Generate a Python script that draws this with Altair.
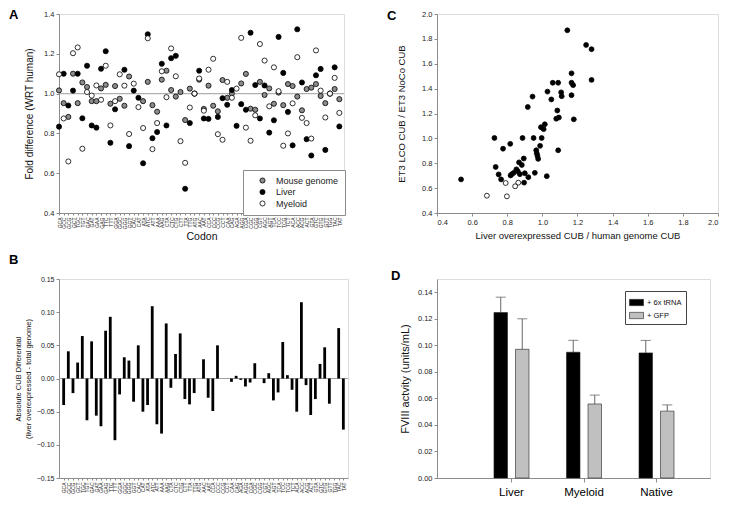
import altair as alt
import pandas as pd

FONT = "Liberation Sans"
GRAY = "#8c8c8c"

# ---------------- data ----------------
codons = ["GCA", "GCC", "GCG", "GCT", "TGC", "TGT", "GAC", "GAT", "GAA", "GAG", "TTC", "TTT",
          "GGA", "GGC", "GGG", "GGT", "CAC", "CAT", "ATA", "ATC", "ATT", "AAA", "AAG",
          "CTA", "CTC", "CTG", "CTT", "TTA", "TTG", "ATG", "AAC", "AAT", "CCA", "CCC", "CCG", "CCT",
          "CAA", "CAG", "AGA", "AGG", "CGA", "CGC", "CGG", "CGT", "AGC", "AGT", "TCA", "TCC", "TCG", "TCT",
          "ACA", "ACC", "ACG", "ACT", "GTA", "GTC", "GTG", "GTT", "TGG", "TAC", "TAT"]

series_names = ["Mouse genome", "Liver", "Myeloid"]

mouse = [1.016, 0.952, 0.883, 1.100, 0.952, 1.056, 1.033, 0.962, 0.962, 1.026, 1.044, 0.949,
         1.038, 0.974, 0.939, 1.086, None, None, 0.962, 1.059, 0.942, 0.909, 1.070,
         1.115, 1.018, 0.985, 1.008, 0.867, 1.025, 1.000, 1.070, 0.923, 1.040, 0.939, 0.911, 1.068,
         0.979, 1.000, None, 1.051, 1.099, 0.924, 0.919, 1.059, 0.993, 1.026, 0.949, 1.005, 0.942, 1.048,
         1.038, 0.985, 0.916, 1.023, 1.030, 1.048, 0.988, 0.952, 1.000, 1.023, 0.972]
liver = [0.834, 1.100, 0.940, 1.015, 1.100, 0.876, 1.140, 0.840, 0.829, 1.125, 1.213, 0.753,
         0.921, None, 1.120, 0.736, 1.015, 0.979, 0.650, 1.298, 0.776, 0.807, 1.150,
         0.840, 1.178, 1.190, None, 0.522, 0.852, 1.000, 1.115, 0.875, 0.873, None, 0.883, 0.977,
         0.944, 1.018, 0.838, 0.947, 0.919, 1.306, 1.043, 0.875, 1.041, 0.804, 0.866, 1.285, 1.104, 0.908,
         0.740, 1.323, 1.056, 0.771, 0.689, 1.092, 1.124, 0.717, 1.000, 1.132, 0.835]
myeloid = [1.097, 0.875, 0.659, 1.203, 1.232, 0.723, 1.008, 0.990, 1.041, 0.969, 1.140, 0.840,
           0.962, 1.097, 1.040, 0.797, 1.050, 0.932, 0.827, 1.278, 0.721, 0.852, 1.112,
           0.982, 1.227, 1.087, 0.761, 0.652, 0.930, 1.000, 1.076, 0.914, 1.120, 1.175, 0.796, 0.768,
           1.059, 0.979, 1.025, 1.280, 0.829, 0.763, 0.891, 1.249, 1.166, 0.936, 1.132, 1.012, 0.738, 0.800,
           0.951, 1.183, 0.878, 0.852, 0.774, 1.217, 1.015, 0.880, 1.000, 1.079, 0.903]

cub_diff = [-0.040, 0.041, -0.022, 0.024, 0.064, -0.063, 0.056, -0.056, -0.072, 0.072, 0.093, -0.093,
            -0.024, 0.032, 0.027, -0.035, 0.050, -0.050, -0.040, 0.109, -0.069, -0.083, 0.083,
            -0.014, 0.037, 0.068, -0.031, -0.039, -0.022, 0.000, 0.029, -0.029, -0.049, 0.050, 0.000, 0.000,
            -0.005, 0.004, -0.002, -0.012, -0.006, 0.023, 0.000, -0.007, 0.008, -0.033, -0.021, 0.055, 0.005, -0.017,
            -0.050, 0.115, -0.010, -0.055, -0.031, 0.022, 0.047, -0.038, 0.000, 0.076, -0.077]

c_filled_x = [0.537, 0.727, 0.734, 0.751, 0.765, 0.776, 0.817, 0.819, 0.826, 0.837, 0.852, 0.860,
              0.867, 0.872, 0.883, 0.887, 0.894, 0.896, 0.900, 0.917, 0.920, 0.944, 0.950, 0.957,
              0.965, 0.968, 0.972, 0.976, 0.987, 0.992, 0.996, 1.007, 1.014, 1.025, 1.029, 1.051,
              1.059, 1.079, 1.085, 1.090, 1.090, 1.094, 1.107, 1.110, 1.142, 1.166, 1.166, 1.166,
              1.175, 1.179, 1.249, 1.280, 1.280]
c_filled_y = [0.670, 1.003, 0.770, 0.710, 0.670, 0.917, 0.956, 0.702, 0.712, 0.723, 0.751, 0.736,
              0.807, 0.712, 0.786, 1.003, 0.838, 0.644, 0.720, 1.252, 0.688, 1.336, 1.003, 0.723,
              0.904, 0.880, 0.859, 0.835, 0.940, 1.090, 1.003, 1.074, 1.113, 0.696, 1.376, 1.313,
              1.447, 1.158, 1.224, 1.447, 0.904, 1.168, 1.370, 1.339, 1.869, 1.347, 1.523, 1.447,
              1.428, 1.153, 1.751, 1.717, 1.470]
c_open_x = [0.684, 0.791, 0.798, 0.845, 0.863]
c_open_y = [0.539, 0.641, 0.534, 0.615, 0.644]

cells = ["Liver", "Myeloid", "Native"]
treats = ["+ 6x tRNA", "+ GFP"]
trna_mean = [0.1247, 0.0948, 0.0943]
trna_upper = [0.1363, 0.1038, 0.1037]
gfp_mean = [0.0970, 0.0558, 0.0504]
gfp_upper = [0.1200, 0.0625, 0.0551]

# ---------------- tables ----------------
rowsA = []
for name, vals in zip(series_names, [mouse, liver, myeloid]):
    for c, v in zip(codons, vals):
        if v is not None:
            rowsA.append({"codon": c, "series": name, "value": v})
dfA = pd.DataFrame(rowsA)
dfB = pd.DataFrame({"codon": codons, "diff": cub_diff})
dfC = pd.DataFrame({
    "cx": c_filled_x + c_open_x,
    "cy": c_filled_y + c_open_y,
    "kind": ["filled"] * len(c_filled_x) + ["open"] * len(c_open_x),
})
dfD = pd.DataFrame({
    "cell": cells + cells,
    "treat": [treats[0]] * 3 + [treats[1]] * 3,
    "mean": trna_mean + gfp_mean,
    "upper": trna_upper + gfp_upper,
})

ax = dict(labelFont=FONT, titleFont=FONT, labelColor="#222", titleColor="#111",
          domainColor=GRAY, tickColor=GRAY, grid=False, titleFontWeight="normal",
          labelFontSize=7.5, tickSize=3)


def letter(ch, dx, dy):
    return alt.Chart(pd.DataFrame({"t": [ch]})).mark_text(
        align="left", baseline="top", font=FONT, fontSize=13, fontWeight="bold", color="black"
    ).encode(text="t:N", x=alt.value(dx), y=alt.value(dy))


# ---------------- panel A ----------------
WA, HA = 285, 199
xA = alt.X("codon:N", sort=codons, scale=alt.Scale(type="point", padding=0.5, align=0),
           axis=alt.Axis(title="Codon", labelAngle=270, titleFontSize=10.5, titlePadding=3,
                         **{**ax, "labelFontSize": 5, "tickSize": 2}))
yA = alt.Y("value:Q", scale=alt.Scale(domain=[0.4, 1.4]),
           axis=alt.Axis(values=[0.4, 0.6, 0.8, 1.0, 1.2, 1.4], format=".1f",
                         title="Fold difference (WRT human)", titleFontSize=10, titlePadding=9, **ax))
ruleA = alt.Chart(pd.DataFrame({"value": [1.0]})).mark_rule(color="#b0b0b0", strokeWidth=1.2).encode(y=yA)
ptsA = alt.Chart(dfA).mark_point(shape="circle", filled=True, size=26, stroke="black",
                                 strokeWidth=0.8, opacity=1).encode(
    x=xA, y=yA,
    fill=alt.Fill("series:N", sort=series_names,
                  scale=alt.Scale(domain=series_names, range=["#8c8c8c", "black", "white"]),
                  legend=alt.Legend(title=None, orient="none", legendX=184, legendY=156,
                                    strokeColor=GRAY, fillColor="white", padding=6,
                                    symbolOffset=9, labelOffset=9, labelFont=FONT, labelFontSize=9,
                                    labelColor="#222", symbolType="circle", symbolSize=26,
                                    symbolStrokeColor="black", symbolStrokeWidth=0.8, rowPadding=1.5)),
)
panelA = alt.layer(ruleA, ptsA, letter("A", -50, -5)).properties(width=WA, height=HA)

# ---------------- panel B ----------------
WB, HB = 289, 199
xB = alt.X("codon:N", sort=codons, scale=alt.Scale(type="point", padding=1),
           axis=alt.Axis(title=None, labelAngle=270, **{**ax, "labelFontSize": 5, "tickSize": 2}))
yB = alt.Y("diff:Q", scale=alt.Scale(domain=[-0.15, 0.15]),
           axis=alt.Axis(values=[-0.15, -0.10, -0.05, 0.0, 0.05, 0.10, 0.15], format=".2f",
                         title=["Absolute CUB Differential", "(liver overexpressed - total genome)"],
                         titleFontSize=7.5, titlePadding=4, **{**ax, "labelFontSize": 7}))
zeroB = alt.Chart(pd.DataFrame({"diff": [0.0]})).mark_rule(color="#a0a0a0", strokeWidth=1.2).encode(y=yB)
barsB = alt.Chart(dfB).mark_bar(size=2.8, color="black").encode(x=xB, y=yB)
panelB = alt.layer(zeroB, barsB, letter("B", -50, -25)).properties(width=WB, height=HB)

# ---------------- panel C ----------------
WC, HC = 281, 199
ticks = [0.4, 0.6, 0.8, 1.0, 1.2, 1.4, 1.6, 1.8, 2.0]
xC = alt.X("cx:Q", scale=alt.Scale(domain=[0.4, 2.0]),
           axis=alt.Axis(values=ticks, format=".1f", title="Liver overexpressed CUB / human genome CUB",
                         titleFontSize=9.5, titlePadding=5, **ax))
yC = alt.Y("cy:Q", scale=alt.Scale(domain=[0.4, 2.0]),
           axis=alt.Axis(values=ticks, format=".1f", title="ET3 LCO CUB / ET3 NoCo CUB",
                         titleFontSize=9.5, titlePadding=15, **ax))
ptsC = alt.Chart(dfC).mark_point(shape="circle", filled=True, size=24, stroke="black",
                                 strokeWidth=0.8, opacity=1).encode(
    x=xC, y=yC,
    fill=alt.Fill("kind:N", scale=alt.Scale(domain=["filled", "open"], range=["black", "white"]), legend=None),
)
panelC = alt.layer(ptsC, letter("C", -50, -4)).properties(width=WC, height=HC)

# ---------------- panel D ----------------
WD, HD = 273, 199
axD = alt.Axis(values=[0, 0.02, 0.04, 0.06, 0.08, 0.10, 0.12, 0.14], format=".2f",
               title="FVIII actvity (units/mL)", titleFontSize=11, titlePadding=7, **ax)
scD = alt.Scale(domain=[0, 0.15])
xD = alt.X("cell:N", sort=cells, scale=alt.Scale(paddingInner=0.517, paddingOuter=0.641, align=0.613),
           axis=alt.Axis(title=None, labelAngle=0, labelPadding=4,
                         **{**ax, "labelFontSize": 11.5, "labelColor": "black", "tickSize": 4}))
xoD = alt.XOffset("treat:N", sort=treats, scale=alt.Scale(paddingInner=0.372))
yD = alt.Y("mean:Q", scale=scD, axis=axD)
barsD = alt.Chart(dfD).mark_bar(stroke="#222", strokeWidth=0.6).encode(
    x=xD, xOffset=xoD, y=yD,
    fill=alt.Fill("treat:N", sort=treats, scale=alt.Scale(domain=treats, range=["black", "#c0c0c0"]),
                  legend=alt.Legend(title=None, orient="none", legendX=188, legendY=12,
                                    strokeColor="#444", fillColor="white", padding=4,
                                    labelFont=FONT, labelFontSize=7.5, labelColor="#111",
                                    symbolType="M-1,-0.45L1,-0.45L1,0.45L-1,0.45Z", symbolSize=196,
                                    symbolStrokeColor="#222", symbolStrokeWidth=0.6,
                                    labelOffset=3, rowPadding=1)),
)
errD = alt.Chart(dfD).mark_rule(color="#555", strokeWidth=0.9).encode(
    x=xD, xOffset=xoD, y=yD, y2="upper:Q")
capD = alt.Chart(dfD).mark_tick(color="#555", thickness=1, size=10, orient="horizontal").encode(
    x=xD, xOffset=xoD, y=alt.Y("upper:Q", scale=scD, axis=axD))
panelD = alt.layer(errD, capD, barsD, letter("D", -46, -9)).properties(width=WD, height=HD)

chart = alt.concat(panelA, panelC, panelB, panelD, columns=2,
                   spacing={"row": 66, "column": 89}, bounds="flush").resolve_scale(
    x="independent", y="independent", fill="independent", xOffset="independent"
).resolve_legend(fill="independent").configure_view(
    stroke=GRAY, strokeWidth=1.2).configure(font=FONT).properties(padding=0)

chart.save("out.html", embed_options={"renderer": "svg", "actions": False})
